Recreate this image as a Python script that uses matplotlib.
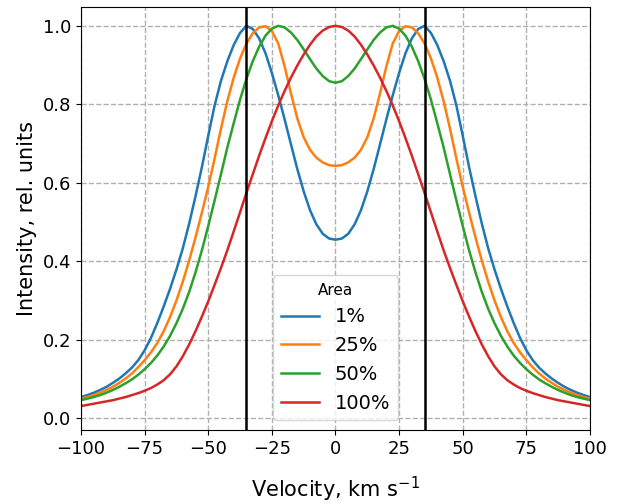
import matplotlib
matplotlib.use("Agg")
import matplotlib.pyplot as plt

# line profiles for different emitting areas, sampled every 2.5 km/s
velocity = [-100, -97.5, -95, -92.5, -90, -87.5, -85, -82.5, -80, -77.5,
            -75, -72.5, -70, -67.5, -65, -62.5, -60, -57.5, -55, -52.5,
            -50, -47.5, -45, -42.5, -40, -37.5, -35, -32.5, -30, -27.5,
            -25, -22.5, -20, -17.5, -15, -12.5, -10, -7.5, -5, -2.5,
            0, 2.5, 5, 7.5, 10, 12.5, 15, 17.5, 20, 22.5,
            25, 27.5, 30, 32.5, 35, 37.5, 40, 42.5, 45, 47.5,
            50, 52.5, 55, 57.5, 60, 62.5, 65, 67.5, 70, 72.5,
            75, 77.5, 80, 82.5, 85, 87.5, 90, 92.5, 95, 97.5, 100]

area_1 = [0.054, 0.059, 0.065, 0.072, 0.080, 0.090, 0.101, 0.114, 0.129, 0.148,
          0.173, 0.205, 0.243, 0.285, 0.330, 0.379, 0.433, 0.496, 0.566, 0.640,
          0.720, 0.797, 0.860, 0.910, 0.951, 0.982, 1.000, 0.992, 0.968, 0.930,
          0.880, 0.823, 0.762, 0.698, 0.635, 0.578, 0.530, 0.494, 0.470, 0.458,
          0.455, 0.458, 0.470, 0.494, 0.530, 0.578, 0.635, 0.698, 0.762, 0.823,
          0.880, 0.930, 0.968, 0.992, 1.000, 0.982, 0.951, 0.910, 0.860, 0.797,
          0.720, 0.640, 0.566, 0.496, 0.433, 0.379, 0.330, 0.285, 0.243, 0.205,
          0.173, 0.148, 0.129, 0.114, 0.101, 0.090, 0.080, 0.072, 0.065, 0.059, 0.054]

area_25 = [0.050, 0.054, 0.059, 0.065, 0.072, 0.080, 0.090, 0.101, 0.114, 0.130,
           0.148, 0.168, 0.192, 0.222, 0.258, 0.300, 0.348, 0.402, 0.461, 0.524,
           0.590, 0.662, 0.738, 0.808, 0.868, 0.917, 0.955, 0.981, 0.996, 0.999,
           0.987, 0.955, 0.897, 0.828, 0.764, 0.716, 0.684, 0.664, 0.652, 0.645,
           0.643, 0.645, 0.652, 0.664, 0.684, 0.716, 0.764, 0.828, 0.897, 0.955,
           0.987, 0.999, 0.996, 0.981, 0.955, 0.917, 0.868, 0.808, 0.738, 0.662,
           0.590, 0.524, 0.461, 0.402, 0.348, 0.300, 0.258, 0.222, 0.192, 0.168,
           0.148, 0.130, 0.114, 0.101, 0.090, 0.080, 0.072, 0.065, 0.059, 0.054, 0.050]

area_50 = [0.046, 0.050, 0.054, 0.059, 0.065, 0.072, 0.080, 0.089, 0.099, 0.111,
           0.125, 0.141, 0.160, 0.183, 0.210, 0.242, 0.279, 0.322, 0.372, 0.428,
           0.490, 0.555, 0.622, 0.690, 0.752, 0.812, 0.865, 0.910, 0.947, 0.975,
           0.993, 1.000, 0.996, 0.983, 0.964, 0.940, 0.915, 0.891, 0.872, 0.859,
           0.855, 0.859, 0.872, 0.891, 0.915, 0.940, 0.964, 0.983, 0.996, 1.000,
           0.993, 0.975, 0.947, 0.910, 0.865, 0.812, 0.752, 0.690, 0.622, 0.555,
           0.490, 0.428, 0.372, 0.322, 0.279, 0.242, 0.210, 0.183, 0.160, 0.141,
           0.125, 0.111, 0.099, 0.089, 0.080, 0.072, 0.065, 0.059, 0.054, 0.050, 0.046]

area_100 = [0.031, 0.034, 0.037, 0.040, 0.043, 0.046, 0.050, 0.054, 0.059, 0.064,
            0.070, 0.077, 0.086, 0.097, 0.112, 0.132, 0.158, 0.188, 0.222, 0.259,
            0.298, 0.340, 0.383, 0.428, 0.476, 0.525, 0.574, 0.622, 0.669, 0.714,
            0.757, 0.797, 0.834, 0.868, 0.899, 0.927, 0.952, 0.973, 0.988, 0.997,
            1.000, 0.997, 0.988, 0.973, 0.952, 0.927, 0.899, 0.868, 0.834, 0.797,
            0.757, 0.714, 0.669, 0.622, 0.574, 0.525, 0.476, 0.428, 0.383, 0.340,
            0.298, 0.259, 0.222, 0.188, 0.158, 0.132, 0.112, 0.097, 0.086, 0.077,
            0.070, 0.064, 0.059, 0.054, 0.050, 0.046, 0.043, 0.040, 0.037, 0.034, 0.031]

labels = ["1%", "25%", "50%", "100%"]
profiles = [area_1, area_25, area_50, area_100]
marker_velocity = [-35, 35]

fig = plt.figure(figsize=(6.17, 5.04), dpi=100)
ax = fig.add_axes([0.1313, 0.1468, 0.8249, 0.8393])

for lab, prof in zip(labels, profiles):
    ax.plot(velocity, prof, lw=1.8, label=lab)

for v in marker_velocity:
    ax.axvline(v, color="black", lw=1.8)

ax.set_xlim(-100, 100)
ax.set_ylim(-0.03, 1.048)
ax.set_xticks([-100, -75, -50, -25, 0, 25, 50, 75, 100])
ax.set_yticks([0.0, 0.2, 0.4, 0.6, 0.8, 1.0])
ax.tick_params(labelsize=13)
ax.grid(True, ls="--", color="#b0b0b0", lw=1)

ax.set_xlabel("Velocity, km s$^{\\mathregular{-1}}$", fontsize=15, labelpad=12)
ax.set_ylabel("Intensity, rel. units", fontsize=15)

leg = ax.legend(title="Area", loc="lower center", fontsize=14, title_fontsize=11)

fig.savefig("out.png", dpi=100)
